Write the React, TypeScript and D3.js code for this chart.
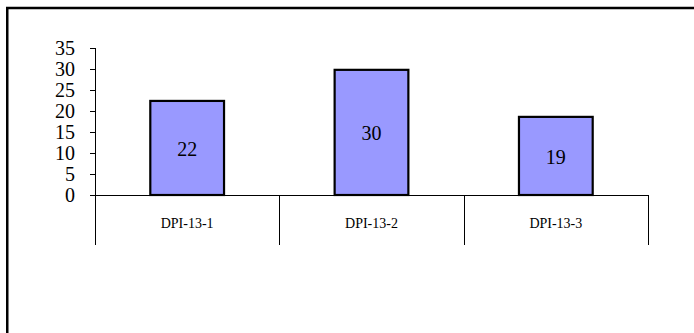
import React from "react";
import * as d3 from "d3";

const categories = ["DPI-13-1", "DPI-13-2", "DPI-13-3"];
const values = [22.4, 29.8, 18.6];
const yTicks = [0, 5, 10, 15, 20, 25, 30, 35];

export default function App() {
  const W = 694, H = 333;
  const x0 = 95, x1 = 648, yTop = 48, yZero = 195, yBottom = 245;
  const x = d3.scaleBand<string>().domain(categories).range([x0, x1]).paddingInner(0).paddingOuter(0);
  const y = d3.scaleLinear().domain([0, 35]).range([yZero, yTop]);
  const bw = x.bandwidth() * 0.4;
  const font = "'Liberation Serif', 'Times New Roman', serif";
  return (
    <svg width={W} height={H} style={{ position: "absolute", left: 0, top: 0, background: "#fff" }}>
      <rect x={7.25} y={8} width={W + 20} height={H + 20} fill="none" stroke="#000" strokeWidth={2.5} />
      <line x1={x0 + 0.5} x2={x0 + 0.5} y1={yTop} y2={yBottom} stroke="#000" strokeWidth={1} />
      {yTicks.map((t) => (
        <g key={t}>
          <line x1={x0 - 5} x2={x0} y1={Math.round(y(t)) + 0.5} y2={Math.round(y(t)) + 0.5} stroke="#000" />
          <text x={75} y={y(t)} dy="0.35em" textAnchor="end" fontFamily={font} fontSize={20} fill="#000">{t}</text>
        </g>
      ))}
      <line x1={x0} x2={x1} y1={yZero + 0.5} y2={yZero + 0.5} stroke="#000" strokeWidth={1} />
      {[...categories.map((c) => x(c)!), x1].map((px, i) => (
        <line key={i} x1={Math.round(px) + 0.5} x2={Math.round(px) + 0.5} y1={yZero} y2={yBottom} stroke="#000" />
      ))}
      {categories.map((c, i) => {
        const cx = x(c)! + x.bandwidth() / 2;
        return (
          <g key={c}>
            <rect x={cx - bw / 2} y={y(values[i])} width={bw} height={yZero - y(values[i])} fill="#9999FF" stroke="#000" strokeWidth={2.2} />
            <text x={cx} y={(y(values[i]) + yZero) / 2 + 1} dy="0.35em" textAnchor="middle" fontFamily={font} fontSize={20} fill="#000">{Math.round(values[i])}</text>
            <text x={cx} y={223} dy="0.35em" textAnchor="middle" fontFamily={font} fontSize={14} fill="#000">{c}</text>
          </g>
        );
      })}
    </svg>
  );
}
